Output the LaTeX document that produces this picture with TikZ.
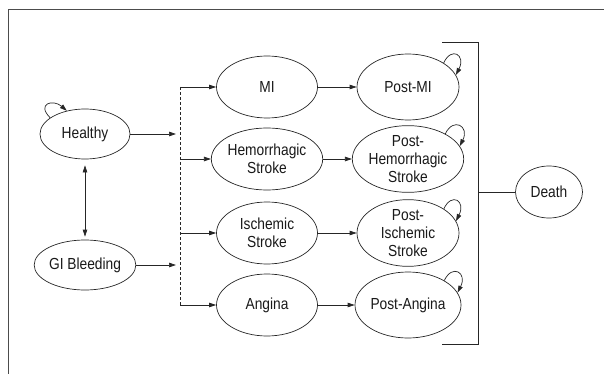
\documentclass[tikz,border=0pt]{standalone}
\usepackage{fontspec}
\setmainfont{Liberation Sans}[FakeStretch=0.86]
\usetikzlibrary{shapes.geometric,arrows.meta}
\begin{document}
\begin{tikzpicture}[x=1pt,y=-1pt,
  st/.style={ellipse,draw=black!85,line width=0.7pt,inner sep=0pt,align=center,
    text=black!90,font=\fontsize{16}{18}\selectfont},
  small/.style={st,minimum width=90pt,minimum height=50pt},
  mid/.style={st,minimum width=101pt,minimum height=62pt},
  post/.style={st,minimum width=102pt,minimum height=66pt},
  death/.style={st,minimum width=67pt,minimum height=52pt},
  arr/.style={draw=black!85,line width=0.7pt,-{Triangle[length=7pt,width=4.5pt]}},
  ln/.style={draw=black!85,line width=0.7pt},
  frame/.style={draw=black!70,line width=0.9pt}]
\useasboundingbox (0,0) rectangle (604,374);
\draw[frame] (8.5,374) -- (8.5,9) -- (604,9);
% left column
\node[small] (h) at (85,134) {Healthy};
\node[small] (gi) at (85,265) {GI Bleeding};
% middle column
\node[mid] (mi) at (267,87) {MI};
\node[mid] (hs) at (267,159) {Hemorrhagic\\Stroke};
\node[mid] (is) at (267,233) {Ischemic\\Stroke};
\node[mid] (an) at (267,305) {Angina};
% post column
\node[post] (pmi) at (408,87) {Post-MI};
\node[post] (phs) at (408,159) {Post-\\Hemorrhagic\\Stroke};
\node[post] (pis) at (408,233) {Post-\\Ischemic\\Stroke};
\node[post] (pan) at (408,305) {Post-Angina};
% death
\node[death] (d) at (549,192) {Death};
% split line
\coordinate (s1) at (180,87);
\coordinate (s2) at (180,159);
\coordinate (s3) at (180,233);
\coordinate (s4) at (180,305);
\draw[ln,dashed,dash pattern=on 3pt off 2pt] (s1) -- (s4);
\draw[arr] (h.east) -- (h.east -| 176,0);
\draw[arr] (gi.east) -- (gi.east -| 176,0);
\draw[arr] (s1) -- (mi.west);
\draw[arr] (s2) -- (hs.west);
\draw[arr] (s3) -- (is.west);
\draw[arr] (s4) -- (an.west);
\draw[arr] (mi) -- (pmi);
\draw[arr] (hs) -- (phs);
\draw[arr] (is) -- (pis);
\draw[arr] (an) -- (pan);
% healthy <-> GI
\draw[ln,{Triangle[length=7pt,width=4.5pt]}-{Triangle[length=7pt,width=4.5pt]}]
  ([yshift=-6pt]h.south) -- ([yshift=3pt]gi.north);
% bracket
\coordinate (b1) at (442,42);
\coordinate (b2) at (478,42);
\coordinate (b3) at (478,344);
\coordinate (b4) at (442,344);
\coordinate (bm) at (478,192);
\draw[ln] (b1) -- (b2) -- (b3) -- (b4);
\draw[ln] (bm) -- (d.west);
% self loops
\draw[arr] (h.155) .. controls +(-14,-14) and +(-14,-12) .. (h.128);
\foreach \n in {pmi,phs,pis,pan}{
  \draw[arr] (\n.34) .. controls +(8,-17) and +(10,-20) .. (\n.14);
}
\end{tikzpicture}
\end{document}
